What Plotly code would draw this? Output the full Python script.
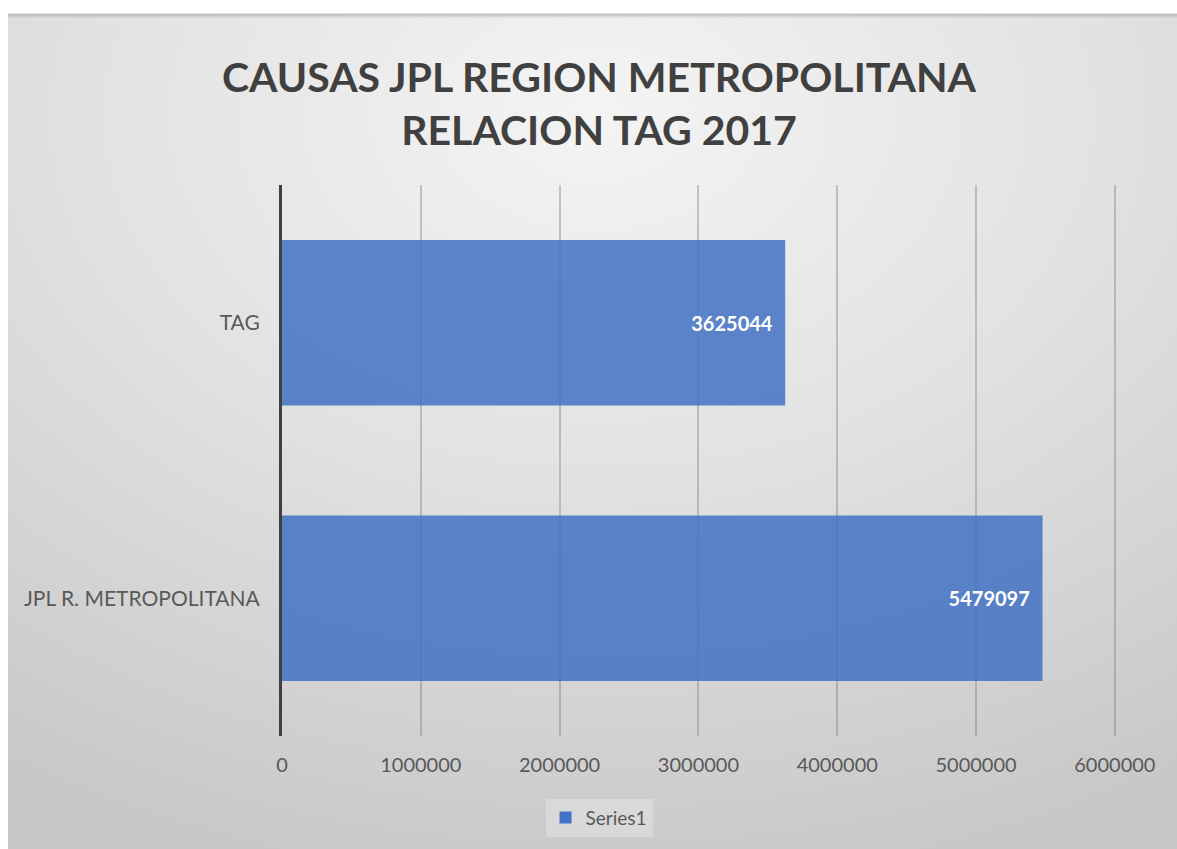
import base64
import plotly.graph_objects as go

# ---- data ----
categories = ["JPL R. METROPOLITANA", "TAG"]
values = [5479097, 3625044]
series_name = "Series1"
x_tick_values = [0, 1000000, 2000000, 3000000, 4000000, 5000000, 6000000]
x_tick_labels = ["0", "1000000", "2000000", "3000000", "4000000", "5000000", "6000000"]
title_text = "CAUSAS JPL REGION METROPOLITANA<br>RELACION TAG 2017"

# ---- layout constants ----
W, H = 1177, 849
X_MAX = 6030000
ML, MT, MB = 282, 185, 111
PW = round(X_MAX * 833 / 6000000)
MR = W - ML - PW
PH = H - MT - MB
BOX_L, BOX_T = 8, 13

# radial gradient background as an SVG data URI
bw, bh = W - BOX_L + 12, H - BOX_T + 12
svg = f'''<svg xmlns="http://www.w3.org/2000/svg" width="{bw}" height="{bh}" viewBox="0 0 {bw} {bh}" preserveAspectRatio="none">
<defs><radialGradient id="g" cx="0.5" cy="0.12" r="0.95" fx="0.5" fy="0.12">
<stop offset="0" stop-color="#f4f4f4"/><stop offset="0.45" stop-color="#e2e2e2"/><stop offset="1" stop-color="#c6c6c6"/>
</radialGradient>
<linearGradient id="s" x1="0" y1="0" x2="0" y2="1">
<stop offset="0" stop-color="#b5b5b5" stop-opacity="1"/><stop offset="1" stop-color="#b5b5b5" stop-opacity="0"/>
</linearGradient></defs>
<rect x="0" y="0" width="{bw}" height="{bh}" fill="url(#g)"/>
<rect x="0" y="0" width="{bw}" height="5" fill="url(#s)"/>
</svg>'''
src = "data:image/svg+xml;base64," + base64.b64encode(svg.encode()).decode()

fig = go.Figure()
fig.add_trace(go.Bar(
    y=categories,
    x=values,
    orientation="h",
    name=series_name,
    marker=dict(color="#4472c4", opacity=0.86, line=dict(width=0)),
    text=[f"{v}\u00a0\u00a0" for v in values],
    textposition="inside",
    insidetextanchor="end",
    textfont=dict(family="Lato", size=20, color="white", weight="bold"),
    showlegend=True,
))

fig.update_layout(
    width=W, height=H,
    margin=dict(l=ML, r=MR, t=MT, b=MB, pad=0),
    paper_bgcolor="#c7c7c7",
    plot_bgcolor="rgba(0,0,0,0)",
    bargap=0.4,
    title=dict(
        text=title_text,
        font=dict(family="Lato", size=41, color="#404040", weight="bold"),
        x=599 / W, xanchor="center", xref="container",
        y=1 - 92 / H, yanchor="middle", yref="container",
    ),
    xaxis=dict(
        range=[0, X_MAX],
        tickvals=x_tick_values,
        ticktext=x_tick_labels,
        showgrid=True,
        gridcolor="rgba(110,110,110,0.35)",
        gridwidth=1.5,
        zeroline=False,
        showline=False,
        ticks="",
        ticklabelstandoff=15,
        tickfont=dict(family="Lato", size=20, color="#595959"),
    ),
    yaxis=dict(
        showline=True,
        linecolor="#404040",
        linewidth=3,
        showgrid=False,
        zeroline=False,
        ticks="",
        ticklabelstandoff=15,
        tickfont=dict(family="Lato", size=21, color="#595959"),
    ),
    legend=dict(
        orientation="h",
        x=(599 - ML) / PW, xanchor="center",
        y=(H - MB - 820) / PH, yanchor="middle",
        bgcolor="rgba(255,255,255,0.25)",
        font=dict(family="Lato", size=19, color="#595959"),
        itemwidth=30,
    ),
    images=[dict(
        source=src,
        xref="paper", yref="paper",
        x=(BOX_L - ML) / PW, y=(H - MB - BOX_T) / PH,
        sizex=bw / PW, sizey=bh / PH,
        xanchor="left", yanchor="top",
        sizing="stretch", layer="below",
    )],
    shapes=[
        dict(type="rect", xref="paper", yref="paper", layer="above",
             x0=-ML / PW - 0.01, x1=(BOX_L - ML) / PW,
             y0=-MB / PH - 0.01, y1=1 + MT / PH + 0.01,
             fillcolor="white", line=dict(width=0)),
        dict(type="rect", xref="paper", yref="paper", layer="above",
             x0=-ML / PW - 0.01, x1=1 + MR / PW + 0.01,
             y0=(H - MB - BOX_T) / PH, y1=1 + MT / PH + 0.01,
             fillcolor="white", line=dict(width=0)),
    ],
)

fig.write_html("out.html")
